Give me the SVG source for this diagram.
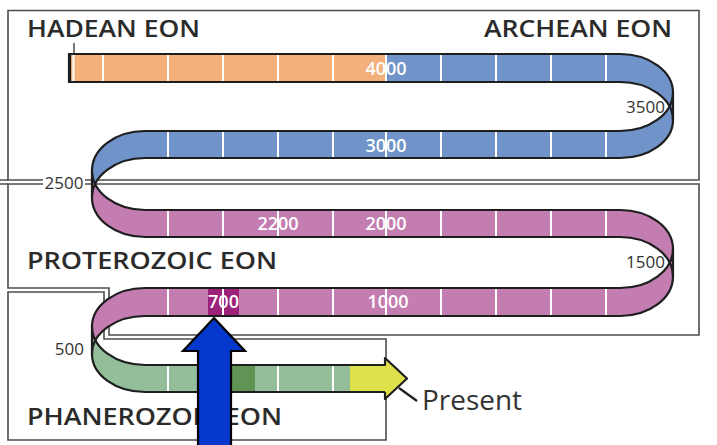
<svg xmlns="http://www.w3.org/2000/svg" xmlns:xlink="http://www.w3.org/1999/xlink" width="717" height="445" viewBox="0 0 717 445">
<style>
.box{fill:none;stroke:#4d4d4d;stroke-width:1.6}
.edge{fill:none;stroke:#1e1e1e;stroke-width:2.2;stroke-linejoin:round}
.tick{stroke:#ffffff;stroke-width:2}
.title{font-family:"Open Sans","DejaVu Sans",sans-serif;font-weight:650;font-size:24px;fill:#2b2b2b}
.num{font-family:"Open Sans","DejaVu Sans",sans-serif;font-size:17px;fill:#333333}
.wnum{font-family:"Open Sans","DejaVu Sans",sans-serif;font-weight:600;font-size:18px;fill:#ffffff;text-anchor:middle}
.present{font-family:"Open Sans","DejaVu Sans",sans-serif;font-weight:500;font-size:27px;fill:#333333}
</style>
<defs>
<g id="rib">
<path d="M68,54 H621 V82 H68 Z"/>
<path d="M620,54 A53,38.5 0 0 1 673,92.5 L673,120 A53,38 0 0 0 620,82 Z"/>
<path d="M673,92.5 A53,38.5 0 0 1 620,131 L620,158 A53,38 0 0 0 673,120 Z"/>
<path d="M144,131 H621 V158 H144 Z"/>
<path d="M145,131 A53,39.5 0 0 0 92,170.5 L92,197.5 A53,39.5 0 0 1 145,158 Z"/>
<path d="M92,170.5 A53,39.5 0 0 0 145,210 L145,237 A53,39.5 0 0 1 92,197.5 Z"/>
<path d="M144,210 H621 V237 H144 Z"/>
<path d="M620,210 A53,39 0 0 1 673,249 L673,276.5 A53,39.5 0 0 0 620,237 Z"/>
<path d="M673,249 A53,39 0 0 1 620,288 L620,316 A53,39.5 0 0 0 673,276.5 Z"/>
<path d="M144,288 H621 V316 H144 Z"/>
<path d="M145,288 A53,38.5 0 0 0 92,326.5 L92,354 A53,38 0 0 1 145,316 Z"/>
<path d="M92,326.5 A53,38.5 0 0 0 145,365 L145,392 A53,38 0 0 1 92,354 Z"/>
<path d="M144,365 H386 V392 H144 Z"/>
</g>
<clipPath id="cOrange"><rect x="0" y="0" width="386" height="100"/></clipPath>
<clipPath id="cBlue"><rect x="386" y="0" width="331" height="100"/><rect x="0" y="100" width="717" height="84"/></clipPath>
<clipPath id="cPink"><rect x="0" y="184" width="717" height="156"/></clipPath>
<clipPath id="cGreen"><rect x="0" y="340" width="350" height="105"/></clipPath>
<clipPath id="cYellow"><rect x="350" y="340" width="367" height="105"/></clipPath>
</defs>

<g id="hadean-archean-box">
<path class="box" d="M8,10.5 H699 V180 H8 Z"/>
<path class="box" d="M0,180 H8 M0,184 H8"/>
<text class="title" x="27" y="37" textLength="173" lengthAdjust="spacingAndGlyphs">HADEAN EON</text>
<text class="title" x="484" y="37" textLength="188" lengthAdjust="spacingAndGlyphs">ARCHEAN EON</text>
</g>
<g id="proterozoic-box">
<path class="box" d="M8,184 H699 V335 H109 V288 H8 Z"/>
<text class="title" x="27" y="269" textLength="250" lengthAdjust="spacingAndGlyphs">PROTEROZOIC EON</text>
</g>
<g id="phanerozoic-box">
<path class="box" d="M8,292 H104 V339 H386 V440 H8 Z"/>
<text class="title" x="27" y="425" textLength="255" lengthAdjust="spacingAndGlyphs">PHANEROZOIC EON</text>
</g>

<g id="timeline-ribbon">
<use xlink:href="#rib" fill="#f3b07b" clip-path="url(#cOrange)"/>
<use xlink:href="#rib" fill="#7094c9" clip-path="url(#cBlue)"/>
<use xlink:href="#rib" fill="#c47db1" clip-path="url(#cPink)"/>
<use xlink:href="#rib" fill="#94bd99" clip-path="url(#cGreen)"/>
<use xlink:href="#rib" fill="#dfe14a" clip-path="url(#cYellow)"/>
<path d="M385,358 L407,378.5 L385,399 Z" fill="#dfe14a"/>
<rect x="208" y="288" width="31" height="28" fill="#9c2279"/>
<rect x="223" y="365" width="32" height="27" fill="#5f9455"/>
<g class="tick">
<path d="M73.5,55 V81 M103,55 V81 M168,55 V81 M223,55 V81 M278,55 V81 M333,55 V81 M386,55 V81 M441,55 V81 M496,55 V81 M551,55 V81 M606,55 V81"/>
<path d="M168,132 V157 M223,132 V157 M278,132 V157 M333,132 V157 M386,132 V157 M441,132 V157 M496,132 V157 M551,132 V157 M606,132 V157"/>
<path d="M168,211 V236 M223,211 V236 M278,211 V236 M333,211 V236 M386,211 V236 M441,211 V236 M496,211 V236 M551,211 V236 M606,211 V236"/>
<path d="M168,289 V315 M223,289 V315 M278,289 V315 M333,289 V315 M386,289 V315 M441,289 V315 M496,289 V315 M551,289 V315 M606,289 V315"/>
<path d="M168,366 V391 M278,366 V391 M333,366 V391"/>
</g>
<path class="edge" d="M68,54 L620,54 A53,38.5 0 0 1 673,92.5 A53,38.5 0 0 1 620,131 L145,131 A53,39.5 0 0 0 92,170.5 A53,39.5 0 0 0 145,210 L620,210 A53,39 0 0 1 673,249 A53,39 0 0 1 620,288 L145,288 A53,38.5 0 0 0 92,326.5 A53,38.5 0 0 0 145,365 L385,365 L385,358 L407,378.5 L385,399 L385,392"/>
<path class="edge" d="M68,82 L620,82 A53,38 0 0 1 673,120 A53,38 0 0 1 620,158 L145,158 A53,39.5 0 0 0 92,197.5 A53,39.5 0 0 0 145,237 L620,237 A53,39.5 0 0 1 673,276.5 A53,39.5 0 0 1 620,316 L145,316 A53,38 0 0 0 92,354 A53,38 0 0 0 145,392 L385,392"/>
<path class="edge" d="M673,92.5 V120 M92,170.5 V197.5 M673,249 V276.5 M92,326.5 V354"/>
<path d="M69.5,54 V82" stroke="#1e1e1e" stroke-width="3.2"/>
<path d="M74,43 V54" stroke="#1e1e1e" stroke-width="1.2"/>
<text class="wnum" x="386" y="75">4000</text>
<text class="wnum" x="386" y="152">3000</text>
<text class="wnum" x="278" y="230">2200</text>
<text class="wnum" x="386" y="230">2000</text>
<text class="wnum" x="223.5" y="308">700</text>
<text class="wnum" x="388" y="308">1000</text>
</g>

<g id="date-labels">
<text class="num" x="665" y="113" text-anchor="end">3500</text>
<text class="num" x="665" y="268" text-anchor="end">1500</text>
<rect x="43" y="175" width="42" height="15" fill="#ffffff"/>
<text class="num" x="64" y="189" text-anchor="middle">2500</text>
<text class="num" x="84" y="355" text-anchor="end">500</text>
<text class="present" x="422" y="410" textLength="100" lengthAdjust="spacingAndGlyphs">Present</text>
</g>

<g id="connectors">
<path d="M399,388 L417,401" stroke="#1e1e1e" stroke-width="2.2" fill="none"/>
</g>

<g id="pointer-arrow">
<path d="M214,318 L245,351 L231,351 L231,450 L198,450 L198,351 L183,351 Z" fill="#0438cc" stroke="#000000" stroke-width="2.2" stroke-linejoin="miter"/>
</g>
</svg>
